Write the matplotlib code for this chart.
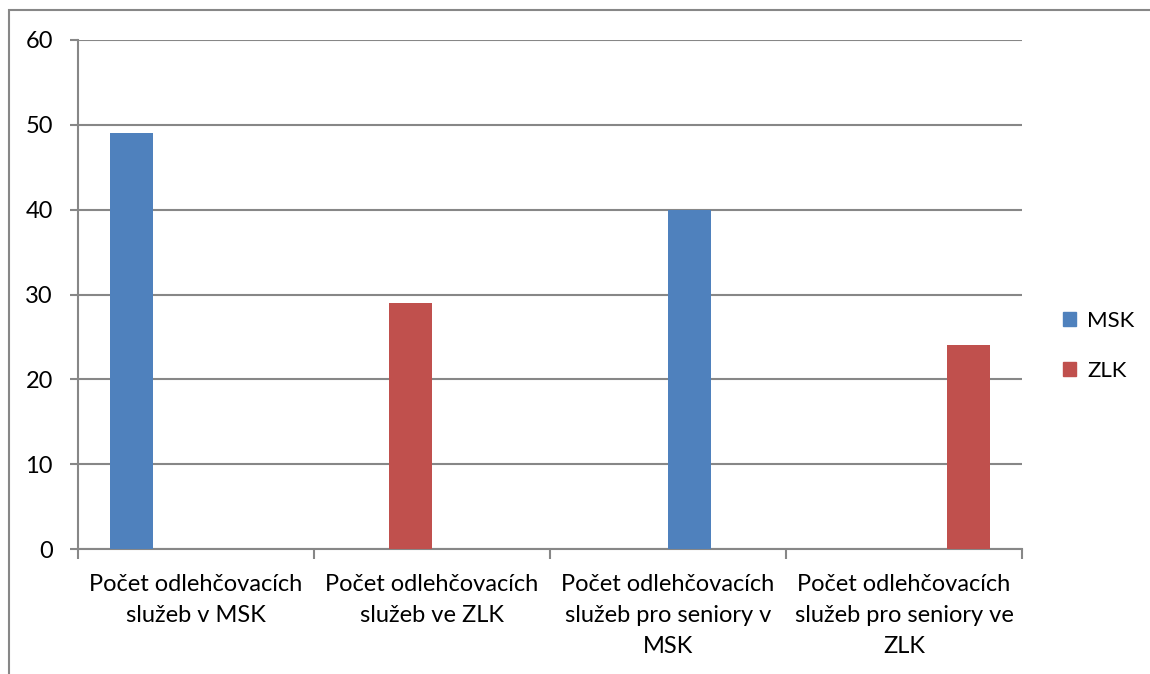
import numpy as np
import matplotlib.pyplot as plt
from matplotlib.patches import Rectangle, Patch

# data
categories = ['Počet odlehčovacích\nslužeb v MSK',
              'Počet odlehčovacích\nslužeb ve ZLK',
              'Počet odlehčovacích\nslužeb pro seniory v\nMSK',
              'Počet odlehčovacích\nslužeb pro seniory ve\nZLK']
msk = [49, 0, 40, 0]
zlk = [0, 29, 0, 24]
series_names = ['MSK', 'ZLK']
# which of the 4 series slots in each category holds the value (Excel layout)
slot = [0, 1, 2, 3]

blue = '#4F81BD'
red = '#C0504D'
grid_col = '#878787'

plt.rcParams['font.family'] = ['Lato', 'DejaVu Sans']

fig = plt.figure(figsize=(11.5, 6.74), dpi=100)
ax = fig.add_axes([78 / 1150, 1 - 549 / 674, (1022 - 78) / 1150, (549 - 40) / 674])

x = np.arange(len(categories))
w = 1 / 5.5
offsets = (np.array(slot) - 1.5) * w
vals = [m if m else z for m, z in zip(msk, zlk)]
colors = [blue if m else red for m in msk]
ax.bar(x + offsets, vals, width=w, color=colors, zorder=3)

ax.set_xlim(-0.5, len(categories) - 0.5)
ax.set_ylim(0, 60)
ax.set_yticks(range(0, 61, 10))
ax.yaxis.grid(True, color=grid_col, linewidth=1.5, zorder=0)
ax.tick_params(axis='y', length=6, width=1.5, color=grid_col, labelsize=17, pad=12)

ax.set_xticks(np.arange(-0.5, len(categories), 1))
ax.set_xticklabels([])
ax.set_xticks(x, minor=True)
ax.set_xticklabels(categories, minor=True, fontsize=17, linespacing=1.6)
ax.tick_params(axis='x', which='major', length=7, width=1.5, color=grid_col, direction='out')
ax.tick_params(axis='x', which='minor', length=0, pad=18)

for s in ['top', 'right']:
    ax.spines[s].set_visible(False)
for s in ['left', 'bottom']:
    ax.spines[s].set_color(grid_col)
    ax.spines[s].set_linewidth(1.5)

handles = [Patch(color=blue), Patch(color=red)]
fig.legend(handles, series_names, loc='center left', bbox_to_anchor=(1043 / 1150, 1 - 346 / 674),
           frameon=False, fontsize=16, handlelength=0.6, handleheight=0.6,
           labelspacing=1.35, handletextpad=0.5)

# outer chart frame (cropped at right and bottom)
fig.patches.append(Rectangle((9 / 1150, -0.1), 1.2, 1 - 10 / 674 + 0.1,
                             transform=fig.transFigure, fill=False,
                             edgecolor=grid_col, linewidth=1.5))

fig.savefig('out.png', dpi=100)
